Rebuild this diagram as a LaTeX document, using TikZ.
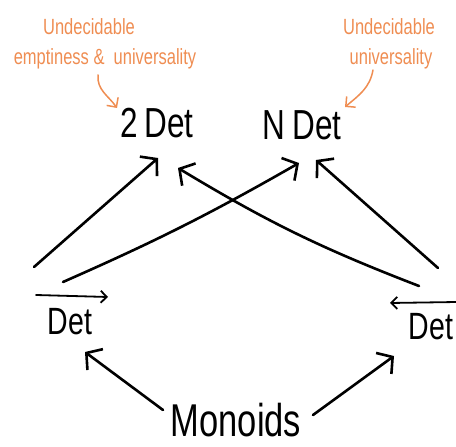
\documentclass[tikz,border=0pt]{standalone}
\usepackage{fontspec}
\usepackage{tikz}
\usetikzlibrary{arrows.meta,positioning}
\newfontfamily\handfont[FakeStretch=0.75]{Liberation Sans}
\definecolor{noteorange}{RGB}{239,141,82}

\begin{document}
\begin{tikzpicture}[
  x=1pt,y=1pt,
  term/.style={inner sep=0mm,anchor=base,font=\handfont\fontsize{42}{44}\selectfont},
  small/.style={term,font=\handfont\fontsize{38}{40}\selectfont},
  big/.style={term,font=\handfont\fontsize{46}{48}\selectfont},
  note/.style={inner sep=0mm,anchor=base,text=noteorange,font=\handfont\fontsize{22}{24}\selectfont},
  conn/.style={line width=2.6pt,line cap=round,line join=round,-{Straight Barb[length=11pt,width=26pt]}},
  overarr/.style={line width=1.8pt,line cap=round,-{Straight Barb[length=6pt,width=12pt]}},
  notearr/.style={draw=noteorange,line width=1.5pt,line cap=round,-{Straight Barb[length=7pt,width=14pt]}}
]
\useasboundingbox (0,0) rectangle (456,447);

% the classes
\node[term] (twodet) at (157,309) {2\,Det};
\node[term] (ndet) at (302,307) {N\,Det};
\node[small] (detl) at (70,112) {Det};
\node[small] (detr) at (431,107) {Det};
\node[big] (monoids) at (236,10) {Monoids};

% arrows over Det
\draw[overarr] ([shift={(-34,40)}]detl.base) -- ([shift={(38,38)}]detl.base);
\draw[overarr] ([shift={(26,38)}]detr.base) -- ([shift={(-41,37)}]detr.base);

% notes
\node[note] (undecl) at (89,412) {Undecidable};
\node[note] (emptl) at (105,382) {emptiness \&\ \ universality};
\node[note] (undecr) at (389,412) {Undecidable};
\node[note] (univr) at (391,382) {universality};

\draw[notearr] ([shift={(-7,-10)}]emptl.base) to[out=-95,in=125] ([shift={(-40,30)}]twodet.base);
\draw[notearr] ([shift={(-18,-5)}]univr.base) to[out=-100,in=40] ([shift={(43,33)}]ndet.base);

% free ends
\coordinate (a1) at (34,180);
\coordinate (a2) at (63,165);
\coordinate (a3) at (419,161);
\coordinate (a4) at (438,179);

\draw[conn] (a1) -- ([shift={(1,-20)}]twodet.base);
\draw[conn] (a2) to[bend right=3] ([shift={(-3,-23)}]ndet.base);
\draw[conn] (a3) to[bend left=5] ([shift={(21,-30)}]twodet.base);
\draw[conn] (a4) -- ([shift={(14,-20)}]ndet.base);

\draw[conn] ([shift={(-73,27)}]monoids.base) -- ([shift={(15,-17)}]detl.base);
\draw[conn] ([shift={(77,22)}]monoids.base) -- ([shift={(-37,-16)}]detr.base);

\end{tikzpicture}
\end{document}
